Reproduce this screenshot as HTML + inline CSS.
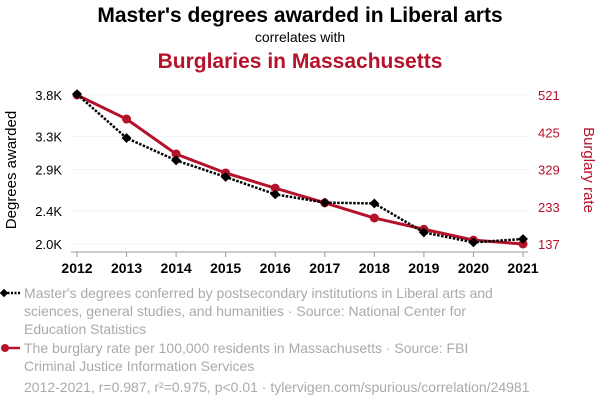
<!DOCTYPE html>
<html><head><meta charset="utf-8"><style>
body{margin:0;background:#fff;font-family:"Liberation Sans",Arial,sans-serif;}
svg text{font-family:"Liberation Sans",Arial,sans-serif;}
</style></head><body>
<svg width="600" height="408" xmlns="http://www.w3.org/2000/svg">
<text x="300" y="22" text-anchor="middle" font-size="21" font-weight="bold" fill="#000">Master's degrees awarded in Liberal arts</text>
<text x="300" y="42" text-anchor="middle" font-size="14" fill="#000">correlates with</text>
<text x="300" y="68" text-anchor="middle" font-size="21" font-weight="bold" fill="#b5122b">Burglaries in Massachusetts</text>
<g id="grid"></g>
<g id="axes"></g>
<g id="series"></g>
<text transform="translate(16,170) rotate(-90)" text-anchor="middle" font-size="15" fill="#000">Degrees awarded</text>
<text transform="translate(584,170) rotate(90)" text-anchor="middle" font-size="15" fill="#b5122b">Burglary rate</text>
<g>
<line x1="4" y1="293" x2="20" y2="293" stroke="#000" stroke-width="2.5" stroke-dasharray="2,1.5"/>
<rect x="1" y="290" width="6" height="6" fill="#000" transform="rotate(45 4 293)"/>
<text font-size="14" fill="#aaa"><tspan x="24" y="298">Master's degrees conferred by postsecondary institutions in Liberal arts and</tspan><tspan x="24" y="316">sciences, general studies, and humanities · Source: National Center for</tspan><tspan x="24" y="334">Education Statistics</tspan></text>
</g>
<g>
<line x1="4" y1="348" x2="20" y2="348" stroke="#b5122b" stroke-width="2.5"/>
<circle cx="5" cy="348" r="4" fill="#b5122b"/>
<text font-size="14" fill="#aaa"><tspan x="24" y="353">The burglary rate per 100,000 residents in Massachusetts · Source: FBI</tspan><tspan x="24" y="371">Criminal Justice Information Services</tspan></text>
</g>
<text x="24" y="392" font-size="14" fill="#aaa">2012-2021, r=0.987, r²=0.975, p&lt;0.01 · tylervigen.com/spurious/correlation/24981</text>
</svg>
<script>
const years=[2012,2013,2014,2015,2016,2017,2018,2019,2020,2021];
const degrees=[3810,3280,3010,2810,2600,2500,2490,2140,2020,2060];
const burglary=[521,459,369,320,281,243,204,175,147,137];
const leftTicks=[3800,3300,2900,2400,2000];
const leftTickLabels=["3.8K","3.3K","2.9K","2.4K","2.0K"];
const rightTicks=[521,425,329,233,137];
const NS="http://www.w3.org/2000/svg";
const x=i=>77+(i)*(523-77)/(years.length-1);
const yL=v=>95+(3800-v)*(244-95)/(3800-2000);
const yR=v=>95+(521-v)*(244-95)/(521-137);
function mk(tag,attrs,parent){const e=document.createElementNS(NS,tag);for(const k in attrs)e.setAttribute(k,attrs[k]);document.getElementById(parent).appendChild(e);return e;}
leftTicks.forEach((t,i)=>{
 const g=mk('line',{x1:70,x2:530,y1:yL(t),y2:yL(t),stroke:'#f2f2f2','stroke-width':1},'grid');
 
 
 const tl=mk('text',{x:62,y:yL(t)+5,'text-anchor':'end','font-size':13,fill:'#000'},'axes');
 tl.textContent=leftTickLabels[i];
 
 
});
rightTicks.forEach(t=>{
 const tl=mk('text',{x:538,y:yR(t)+5,'font-size':13,fill:'#b5122b'},'axes');
 tl.textContent=t;
 
 
});
const ax=mk('line',{x1:71,x2:528,y1:252,y2:252,stroke:'#999','stroke-width':1},'axes');


years.forEach((yr,i)=>{
 const tk=mk('line',{x1:x(i),x2:x(i),y1:252,y2:257,stroke:'#999'},'axes');
 
 
 const tl=mk('text',{x:x(i),y:273,'text-anchor':'middle','font-size':14,'font-weight':'bold',fill:'#000'},'axes');
 tl.textContent=yr;
 
 
});
const rl=mk('polyline',{points:burglary.map((v,i)=>x(i)+','+yR(v)).join(' '),fill:'none',stroke:'#b5122b','stroke-width':3},'series');


burglary.forEach((v,i)=>{
 const c=mk('circle',{cx:x(i),cy:yR(v),r:4.5,fill:'#b5122b'},'series');
 
 
});
const bl=mk('polyline',{points:degrees.map((v,i)=>x(i)+','+yL(v)).join(' '),fill:'none',stroke:'#000','stroke-width':2.5,'stroke-dasharray':'2.5,1.5'},'series');


degrees.forEach((v,i)=>{
 const d=mk('rect',{x:x(i)-3.5,y:yL(v)-3.5,width:7,height:7,fill:'#000',transform:`rotate(45 ${x(i)} ${yL(v)})`},'series');
 
 
});
</script>
</body></html>
